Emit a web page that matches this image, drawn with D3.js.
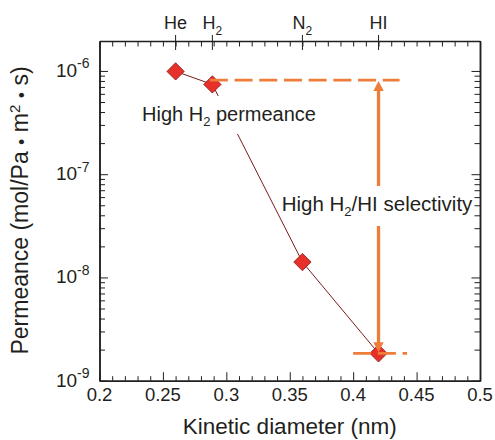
<!DOCTYPE html>
<html>
<head>
<meta charset="utf-8">
<script src="https://cdn.jsdelivr.net/npm/d3@7"></script>
<style>
body { margin: 0; background: #fff; }
text { font-family: "Liberation Sans", Arial, Helvetica, sans-serif; fill: #231f20; }
.axis path, .axis line { stroke: #231f20; }
</style>
</head>
<body>
<svg id="chart" width="495" height="440"></svg>
<script>
// data
var gases = ["He", "H2", "N2", "HI"];
var diameters = [0.26, 0.289, 0.36, 0.42];            // nm
var permeance = [9.9e-7, 7.4e-7, 1.41e-8, 1.84e-9];   // mol/(Pa m2 s)

var xTicks = [0.2, 0.25, 0.3, 0.35, 0.4, 0.45, 0.5];
var xTickLabels = ["0.2", "0.25", "0.3", "0.35", "0.4", "0.45", "0.5"];
var yTicks = [1e-9, 1e-8, 1e-7, 1e-6];
var yExponents = ["-9", "-8", "-7", "-6"];

// selectivity annotation (levels and dashed extents)
var selTop = 8.15e-7, selBottom = 1.84e-9;
var dashTop = [0.287, 0.4366];
var dashBottom = [0.4, 0.4425];

// note: "top" is window.top, so use other names
var pL = 99.5, pR = 480, pT = 41, pB = 380.7;
var orange = "#ee7d3a";

var svg = d3.select("#chart");

var x = d3.scaleLinear().domain([0.2, 0.5]).range([pL, pR]);
var y = d3.scaleLog().domain([1e-9, 1.95e-6]).range([pB, pT]);

var xMinor = d3.range(0.2, 0.5001, 0.01).filter(function(v) {
    return xTicks.every(function(t) { return Math.abs(t - v) > 1e-6; });
});
var yMinor = [];
yTicks.forEach(function(t) {
    for (var k = 2; k <= 9; k++) {
        if (t * k < 1.95e-6) yMinor.push(t * k);
    }
});

function styleAxis(g) {
    g.attr("class", "axis");
    g.select(".domain").attr("stroke-width", 1.5);
    g.selectAll(".tick line").attr("stroke-width", 1);
    g.selectAll(".tick text").remove();
}

// bottom axis
svg.append("g").attr("transform", "translate(0," + pB + ")")
    .call(d3.axisBottom(x).tickValues(xTicks).tickSize(-8.5).tickSizeOuter(0))
    .call(styleAxis);
svg.append("g").attr("transform", "translate(0," + pB + ")")
    .call(d3.axisBottom(x).tickValues(xMinor).tickSize(-4.5).tickSizeOuter(0))
    .call(styleAxis);
svg.selectAll(".xlab").data(xTicks).enter().append("text")
    .attr("x", function(d) { return x(d); })
    .attr("y", 401)
    .attr("text-anchor", "middle")
    .attr("font-size", 18.5)
    .text(function(d, i) { return xTickLabels[i]; });

// top axis: minor ticks and gas ticks
svg.append("g").attr("transform", "translate(0," + pT + ")")
    .call(d3.axisTop(x).tickValues(d3.range(0.2, 0.5001, 0.01)).tickSize(-5.5).tickSizeOuter(0))
    .call(styleAxis);
svg.selectAll(".gastick").data(diameters).enter().append("line")
    .attr("x1", function(d) { return x(d); })
    .attr("x2", function(d) { return x(d); })
    .attr("y1", pT - 6).attr("y2", pT + 9)
    .attr("stroke", "#231f20").attr("stroke-width", 1);
var gl = svg.selectAll(".gaslab").data(gases).enter().append("text")
    .attr("x", function(d, i) { return x(diameters[i]); })
    .attr("y", 29)
    .attr("text-anchor", "middle")
    .attr("font-size", 18);
gl.each(function(d) {
    var t = d3.select(this);
    var m = d.match(/^([A-Za-z]+)(\d*)$/);
    t.append("tspan").text(m[1]);
    if (m[2]) t.append("tspan").attr("font-size", 12).attr("dy", 6).text(m[2]);
});

// left axis
svg.append("g").attr("transform", "translate(" + pL + ",0)")
    .call(d3.axisLeft(y).tickValues(yTicks).tickSize(-8.5).tickSizeOuter(0))
    .call(styleAxis);
svg.append("g").attr("transform", "translate(" + pL + ",0)")
    .call(d3.axisLeft(y).tickValues(yMinor).tickSize(-5.5).tickSizeOuter(0))
    .call(styleAxis);
// right axis
svg.append("g").attr("transform", "translate(" + pR + ",0)")
    .call(d3.axisRight(y).tickValues(yTicks).tickSize(-8.5).tickSizeOuter(0))
    .call(styleAxis);
svg.append("g").attr("transform", "translate(" + pR + ",0)")
    .call(d3.axisRight(y).tickValues(yMinor).tickSize(-5.5).tickSizeOuter(0))
    .call(styleAxis);

var yl = svg.selectAll(".ylab").data(yTicks).enter().append("text")
    .attr("x", 89.5)
    .attr("y", function(d) { return y(d) + 6; })
    .attr("text-anchor", "end")
    .attr("font-size", 19);
yl.append("tspan").text("10");
yl.append("tspan").attr("font-size", 14).attr("dy", -8.5)
    .text(function(d, i) { return yExponents[i]; });

// axis titles
svg.append("text")
    .attr("x", (pL + pR) / 2).attr("y", 434)
    .attr("text-anchor", "middle")
    .attr("font-size", 22.5)
    .text("Kinetic diameter (nm)");

var yt = svg.append("text")
    .attr("transform", "translate(28," + 210.5 + ") rotate(-90)")
    .attr("text-anchor", "middle")
    .attr("font-size", 23);
yt.append("tspan").text("Permeance (mol/Pa ");
yt.append("tspan").attr("font-size", 18).text("\u2022");
yt.append("tspan").text(" m");
yt.append("tspan").attr("font-size", 15).attr("dy", -8).text("2");
yt.append("tspan").attr("dy", 8).text(" ");
yt.append("tspan").attr("font-size", 18).text("\u2022");
yt.append("tspan").text(" s)");

// series line
var pts = diameters.map(function(d, i) { return [d, permeance[i]]; });
svg.append("path")
    .datum(pts)
    .attr("fill", "none")
    .attr("stroke", "#7a1c1c")
    .attr("stroke-width", 1)
    .attr("d", d3.line().x(function(d) { return x(d[0]); }).y(function(d) { return y(d[1]); }));

// label "High H2 permeance" with white background that breaks the line
var lab1 = svg.append("text").attr("x", 142).attr("y", 121).attr("font-size", 20);
lab1.append("tspan").text("High H");
lab1.append("tspan").attr("font-size", 13).attr("dy", 5).text("2");
lab1.append("tspan").attr("dy", -5).text(" permeance");
var b1 = lab1.node().getBBox();
svg.insert("rect", function() { return lab1.node(); })
    .attr("x", b1.x - 4).attr("y", b1.y - 7)
    .attr("width", b1.width + 8).attr("height", b1.height + 12)
    .attr("fill", "#fff");

// markers
svg.selectAll(".pt").data(pts).enter().append("path")
    .attr("d", d3.symbol(d3.symbolSquare, 150))
    .attr("transform", function(d) { return "translate(" + x(d[0]) + "," + y(d[1]) + ") rotate(45)"; })
    .attr("fill", "#e8302a")
    .attr("stroke", "#8a1c1c")
    .attr("stroke-width", 0.8);

// dashed levels
svg.append("line")
    .attr("x1", x(dashTop[0])).attr("x2", x(dashTop[1]))
    .attr("y1", y(selTop)).attr("y2", y(selTop))
    .attr("stroke", orange).attr("stroke-width", 2.6)
    .attr("stroke-dasharray", "18,6.7");
svg.append("line")
    .attr("x1", x(dashBottom[0])).attr("x2", x(dashBottom[1]))
    .attr("y1", y(selBottom)).attr("y2", y(selBottom))
    .attr("stroke", orange).attr("stroke-width", 2.6)
    .attr("stroke-dasharray", "18,6.7");

// selectivity label and double arrow broken around it
var lab2 = svg.append("text").attr("x", 281.7).attr("y", 211).attr("font-size", 20.5);
lab2.append("tspan").text("High H");
lab2.append("tspan").attr("font-size", 13).attr("dy", 5).text("2");
lab2.append("tspan").attr("dy", -5).text("/HI selectivity");
var b2 = lab2.node().getBBox();

var ax = x(0.42), yTopTip = y(selTop) + 1, yBotTip = y(selBottom) - 1, head = 10;
svg.append("line")
    .attr("x1", ax).attr("x2", ax)
    .attr("y1", yTopTip + head - 1).attr("y2", b2.y - 6)
    .attr("stroke", orange).attr("stroke-width", 3.3);
svg.append("line")
    .attr("x1", ax).attr("x2", ax)
    .attr("y1", b2.y + b2.height + 7).attr("y2", yBotTip - head + 1)
    .attr("stroke", orange).attr("stroke-width", 3.3);
svg.append("path")
    .attr("d", "M" + ax + "," + yTopTip + "L" + (ax + 5.2) + "," + (yTopTip + head) + "L" + (ax - 5.2) + "," + (yTopTip + head) + "Z")
    .attr("fill", orange);
svg.append("path")
    .attr("d", "M" + ax + "," + yBotTip + "L" + (ax + 5.2) + "," + (yBotTip - head) + "L" + (ax - 5.2) + "," + (yBotTip - head) + "Z")
    .attr("fill", orange);
</script>
</body>
</html>
